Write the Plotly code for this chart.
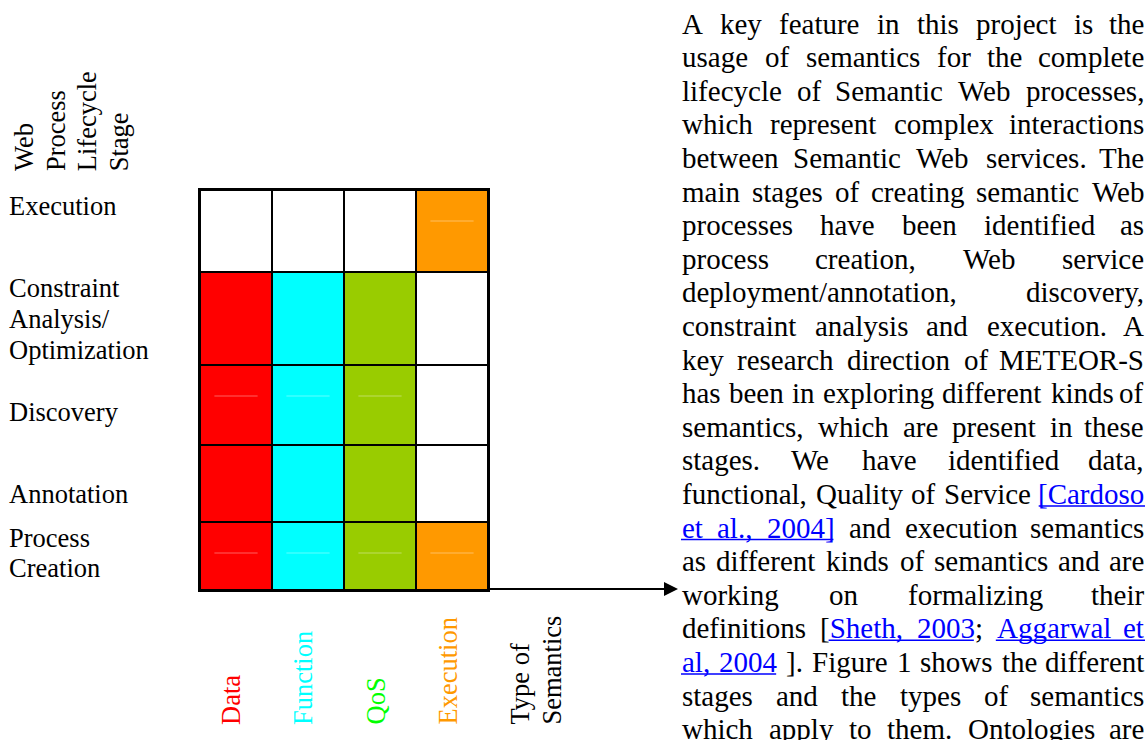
import plotly.graph_objects as go

FIG_W, FIG_H = 1147, 740

# ---------------- data ----------------
# lifecycle stages, top to bottom
stages = ["Execution", "Constraint Analysis/Optimization", "Discovery", "Annotation", "Process Creation"]
stage_label_lines = [["Execution"], ["Constraint", "Analysis/", "Optimization"], ["Discovery"],
                     ["Annotation"], ["Process", "Creation"]]
semantic_types = ["Data", "Function", "QoS", "Execution"]
# 1 = this type of semantics applies to the stage
applies = [
    [0, 0, 0, 1],   # Execution
    [1, 1, 1, 0],   # Constraint Analysis/Optimization
    [1, 1, 1, 0],   # Discovery
    [1, 1, 1, 0],   # Annotation
    [1, 1, 1, 1],   # Process Creation
]
y_title_lines = ["Web", "Process", "Lifecycle", "Stage"]
x_title_lines = ["Type of", "Semantics"]
# text beside the figure; {...} marks hyperlinks
body_lines = [
    "A key feature in this project is the",
    "usage of semantics for the complete",
    "lifecycle of Semantic Web processes,",
    "which represent complex interactions",
    "between Semantic Web services. The",
    "main stages of creating semantic Web",
    "processes have been identified as",
    "process creation, Web service",
    "deployment/annotation, discovery,",
    "constraint analysis and execution. A",
    "key research direction of METEOR-S",
    "has been in exploring different kinds of",
    "semantics, which are present in these",
    "stages. We have identified data,",
    "functional, Quality of Service {[Cardoso}",
    "{et al., 2004]} and execution semantics",
    "as different kinds of semantics and are",
    "working on formalizing their",
    "definitions [{Sheth, 2003}; {Aggarwal et}",
    "{al, 2004} ]. Figure 1 shows the different",
    "stages and the types of semantics",
    "which apply to them. Ontologies are",
]

# ---------------- styles ----------------
cell_colors = ["#FF0000", "#00FFFF", "#99CC00", "#FF9900"]
label_colors = ["#FF0000", "#00FFFF", "#00FF00", "#FF9900"]
row_heights = [82, 93, 80, 77, 68]          # top to bottom (px)
faint_cells = [(0, 3), (2, 0), (2, 1), (2, 2), (4, 0), (4, 1), (4, 2), (4, 3)]
SERIF = "Liberation Serif, Times New Roman, Times, serif"
LINK = "#0000FF"
LABEL_SIZE = 26.5
BODY_SIZE = 29
GRID_L, GRID_R, GRID_T, GRID_B = 200, 488, 190, 590


def px(x):
    return x / FIG_W


def py(y):
    return 1 - y / FIG_H


# Times New Roman / Liberation Serif advance widths (1/1000 em)
TNR = {' ': 250, ',': 250, '.': 250, '/': 278, '-': 333, '[': 333, ']': 333, ';': 278, ':': 278,
       '(': 333, ')': 333}
for ch, w in zip("abcdefghijklmnopqrstuvwxyz",
                 [444, 500, 444, 500, 444, 333, 500, 500, 278, 278, 500, 278, 778, 500, 500, 500, 500,
                  333, 389, 278, 500, 500, 722, 500, 500, 444]):
    TNR[ch] = w
for ch, w in zip("ABCDEFGHIJKLMNOPQRSTUVWXYZ",
                 [722, 667, 667, 722, 611, 556, 722, 722, 333, 389, 722, 611, 889, 722, 722, 556, 722,
                  667, 556, 611, 722, 722, 944, 722, 722, 611]):
    TNR[ch] = w
for ch in "0123456789":
    TNR[ch] = 500


def tw(s, size):
    return sum(TNR.get(c, 500) for c in s) * size / 1000.0


# ---------------- grid (heatmap) ----------------
n_rows = len(stages)
rows_bottom_up = list(range(n_rows))[::-1]
z = [[(c + 1) if applies[r][c] else 0 for c in range(len(semantic_types))] for r in rows_bottom_up]
y_edges = [0]
for r in rows_bottom_up:
    y_edges.append(y_edges[-1] + row_heights[r])
x_edges = list(range(len(semantic_types) + 1))
total_h = y_edges[-1]
top_edge = {}
acc = total_h
for r in range(n_rows):
    top_edge[r] = acc
    acc -= row_heights[r]

cs = [[0, "#FFFFFF"], [0.125, "#FFFFFF"]]
for i, col in enumerate(cell_colors):
    lo = 0.125 + 0.25 * i
    hi = min(1.0, lo + 0.25)
    cs += [[lo, col], [hi, col]]

fig = go.Figure(go.Heatmap(
    z=z, x=x_edges, y=y_edges, zmin=0, zmax=len(semantic_types),
    colorscale=cs, showscale=False, xgap=2, ygap=2, hoverinfo="skip"))

shapes = []
for (r, c) in faint_cells:
    yy = top_edge[r] - 31
    shapes.append(dict(type="line", xref="x", yref="y", x0=c + 0.2, x1=c + 0.8, y0=yy, y1=yy,
                       line=dict(color="rgba(255,255,255,0.38)", width=1)))

annotations = []

# row labels
stage_label_y = [205.5, 288.5, 412, 493.5, 537.5]
for r, lines in enumerate(stage_label_lines):
    for k, t in enumerate(lines):
        annotations.append(dict(text=t, x=px(8), y=py(stage_label_y[r] + 30.5 * k), xref="paper",
                                yref="paper", xanchor="left", yanchor="middle", showarrow=False,
                                borderpad=0, font=dict(size=LABEL_SIZE, color="#000000")))

# vertical stage title
for k, t in enumerate(y_title_lines):
    annotations.append(dict(text=t, x=px(24 + 31.6 * k), y=py(172), xref="paper", yref="paper",
                            xanchor="center", yanchor="bottom", textangle=-90, showarrow=False,
                            borderpad=0, font=dict(size=LABEL_SIZE, color="#000000")))

# semantic type labels
for c, t in enumerate(semantic_types):
    annotations.append(dict(text=t, x=c + 0.5, xshift=-5, y=py(726), xref="x", yref="paper",
                            xanchor="center", yanchor="bottom", textangle=-90, showarrow=False,
                            borderpad=0, font=dict(size=LABEL_SIZE, color=label_colors[c])))
for k, t in enumerate(x_title_lines):
    annotations.append(dict(text=t, x=px(519 + 32 * k), y=py(726), xref="paper", yref="paper",
                            xanchor="center", yanchor="bottom", textangle=-90, showarrow=False,
                            borderpad=0, font=dict(size=LABEL_SIZE, color="#000000")))

# arrow from the grid corner
annotations.append(dict(text="", x=px(678), y=py(589), xref="paper", yref="paper",
                        ax=-(678 - GRID_R), ay=0, showarrow=True, arrowhead=2, arrowsize=1.4,
                        arrowwidth=2, arrowcolor="#000000"))

# justified body text
BODY_X0, BODY_X1 = 681, 1145
BASE0, LEAD = 33.3, 33.6


def word_html(w):
    out = []
    i = 0
    while i < len(w):
        lk = w[i][1]
        j = i
        while j < len(w) and w[j][1] == lk:
            j += 1
        seg = "".join(ch for ch, _ in w[i:j])
        out.append(f'<span style="color:{LINK}">{seg}</span>' if lk else seg)
        i = j
    return "".join(out)


for n, line in enumerate(body_lines):
    link = False
    words, cur, space_links = [], [], []
    for ch in line:
        if ch == "{":
            link = True
            continue
        if ch == "}":
            link = False
            continue
        if ch == " ":
            if cur:
                words.append(cur)
                cur = []
                space_links.append(link)
        else:
            cur.append((ch, link))
    if cur:
        words.append(cur)
    widths = [tw("".join(ch for ch, _ in w), BODY_SIZE) for w in words]
    gap = (BODY_X1 - BODY_X0 - sum(widths)) / max(1, len(words) - 1)
    lefts = []
    xx = BODY_X0
    for wd in widths:
        lefts.append(xx)
        xx += wd + gap
    baseline = BASE0 + LEAD * n
    yc = baseline - 0.3375 * BODY_SIZE
    for k, w in enumerate(words):
        last = (k == len(words) - 1 and len(words) > 1)
        annotations.append(dict(text=word_html(w), x=px(BODY_X1 if last else lefts[k]), y=py(yc),
                                xref="paper", yref="paper", xanchor="right" if last else "left",
                                yanchor="middle", showarrow=False, borderpad=0,
                                font=dict(size=BODY_SIZE, color="#000000")))
    # underline for links
    segs = []
    for k, w in enumerate(words):
        cx = lefts[k]
        for ch, lk in w:
            cw = tw(ch, BODY_SIZE)
            segs.append((cx, cx + cw, lk))
            cx += cw
        if k < len(words) - 1:
            segs.append((lefts[k] + widths[k], lefts[k + 1], space_links[k]))
    run = None
    for x0, x1, lk in segs + [(0, 0, False)]:
        if lk:
            run = [x0, x1] if run is None else [run[0], x1]
        elif run is not None:
            shapes.append(dict(type="line", xref="paper", yref="paper", x0=px(run[0]), x1=px(run[1]),
                               y0=py(baseline + 2.2), y1=py(baseline + 2.2),
                               line=dict(color=LINK, width=1.5)))
            run = None

axis_common = dict(showticklabels=False, ticks="", showgrid=False, zeroline=False, showline=True,
                   linecolor="#000000", linewidth=2, mirror=True, fixedrange=True)
fig.update_layout(
    width=FIG_W, height=FIG_H, autosize=False,
    margin=dict(l=0, r=0, t=0, b=0),
    paper_bgcolor="#FFFFFF", plot_bgcolor="#000000",
    font=dict(family=SERIF, color="#000000"),
    xaxis=dict(domain=[px(GRID_L), px(GRID_R)], range=[0, len(semantic_types)], **axis_common),
    yaxis=dict(domain=[py(GRID_B), py(GRID_T)], range=[0, total_h], **axis_common),
    annotations=annotations, shapes=shapes, showlegend=False,
)

fig.write_html("out.html", config={"displayModeBar": False, "staticPlot": True},
               post_script="document.body.style.margin='0';document.body.style.overflow='hidden';")
